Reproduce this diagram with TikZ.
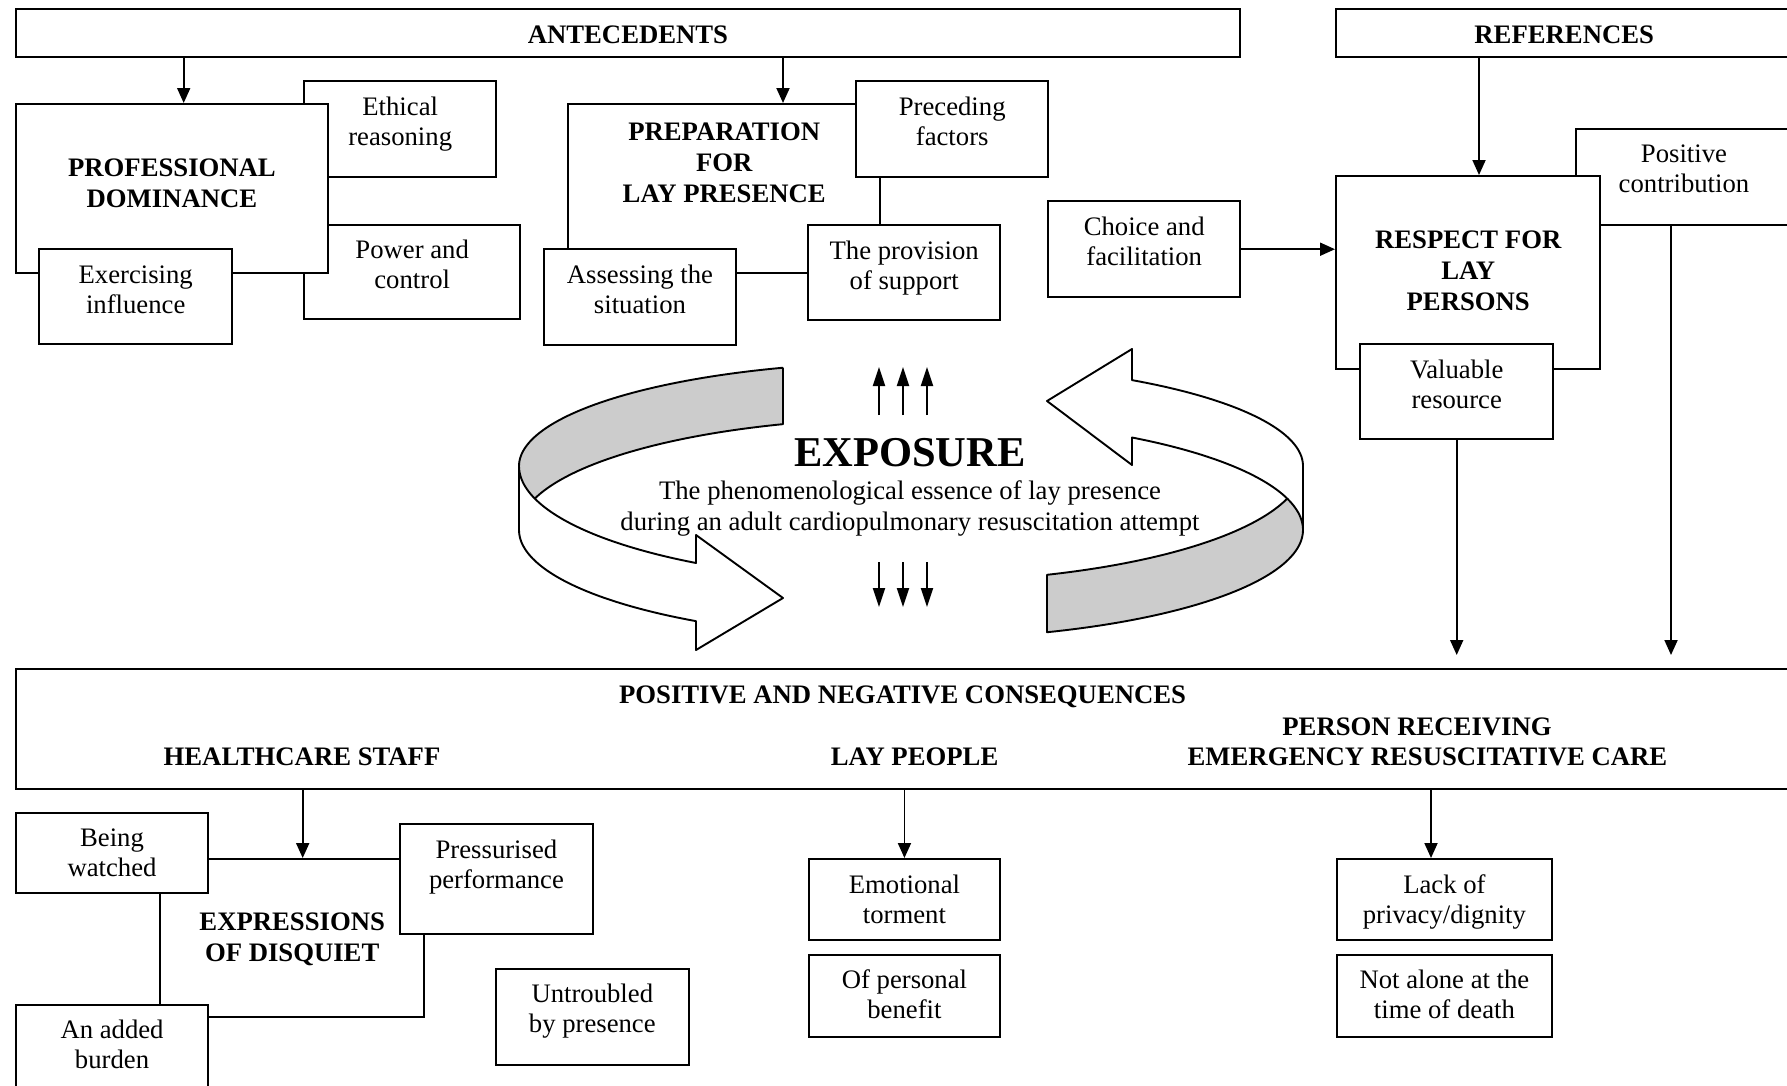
\documentclass[tikz,border=0pt]{standalone}
\usepackage{fontspec}
\setmainfont{Liberation Serif}
\usetikzlibrary{arrows.meta,calc}
\newcommand\lnstrut{\rule{0pt}{20pt}}
\begin{document}
\begin{tikzpicture}[x=1pt,y=-1pt,
  box/.style={draw, line width=2.4pt, fill=white, inner sep=0pt, anchor=north west},
  lbl/.style={inner sep=0pt, align=center, anchor=north, font=\fontsize{26.7}{30}\selectfont},
  hd/.style={inner sep=0pt, align=center, anchor=north, font=\fontsize{26.7}{31}\selectfont\bfseries},
  link/.style={line width=1.9pt, -{Triangle[length=15pt,width=13pt]}},
  expo/.style={line width=1.9pt, -{Triangle[length=19pt,width=12pt]}},
  rib/.style={line width=1.9pt, line join=round},
  ribfill/.style={fill=black!20},
]
\useasboundingbox (0,0) rectangle (1787,1085);
\clip (0,0) rectangle (1787,1085);
\fill[white] (0,0) rectangle (1787,1085);

% ---------- top row: antecedents and references ----------
\node[box, minimum width=1224.5pt, minimum height=48.5pt] (ant) at (14.5,7.5) {};
\node[hd] (antT) at ($(ant.north)+(0,15.5)$) {\lnstrut ANTECEDENTS};
\node[box, minimum width=456pt, minimum height=48.5pt] (ref) at (1335,7.5) {};
\node[hd] (refT) at ($(ref.north)+(0,15.5)$) {\lnstrut REFERENCES};

% professional dominance cluster
\node[box, minimum width=192pt, minimum height=96pt] (eth) at (303,80) {};
\node[lbl] (ethT) at ($(eth.north)+(0,15)$) {\lnstrut Ethical\\reasoning};
\node[box, minimum width=216pt, minimum height=94pt] (pow) at (303,224) {};
\node[lbl] (powT) at ($(pow.north)+(0,14)$) {\lnstrut Power and\\control};
\node[box, minimum width=312.5pt, minimum height=169pt] (pd) at (14.5,103) {};
\node[hd] (pdT) at ($(pd.north)+(0,53)$) {\lnstrut PROFESSIONAL\\DOMINANCE};
\node[box, minimum width=193pt, minimum height=95pt] (exi) at (38,248) {};
\node[lbl] (exiT) at ($(exi.north)+(0,15)$) {\lnstrut Exercising\\influence};

% preparation cluster
\node[box, minimum width=312pt, minimum height=169pt] (prep) at (567,103) {};
\node[hd] (prepT) at ($(prep.north)+(0,17)$) {\lnstrut PREPARATION\\FOR\\LAY PRESENCE};
\node[box, minimum width=192pt, minimum height=96pt] (pre) at (855,80) {};
\node[lbl] (preT) at ($(pre.north)+(0,15)$) {\lnstrut Preceding\\factors};
\node[box, minimum width=192pt, minimum height=95pt] (prov) at (807,224) {};
\node[lbl] (provT) at ($(prov.north)+(0,15)$) {\lnstrut The provision\\of support};
\node[box, minimum width=192.5pt, minimum height=96pt] (ass) at (542.5,248) {};
\node[lbl] (assT) at ($(ass.north)+(0,15)$) {\lnstrut Assessing the\\situation};

% respect cluster
\node[box, minimum width=192pt, minimum height=96pt] (cho) at (1047,200) {};
\node[lbl] (choT) at ($(cho.north)+(0,15)$) {\lnstrut Choice and\\facilitation};
\node[box, minimum width=216.5pt, minimum height=96pt] (pos) at (1574.5,128) {};
\node[lbl] (posT) at ($(pos.north)+(0,14)$) {\lnstrut Positive\\contribution};
\node[box, minimum width=264pt, minimum height=193pt] (resp) at (1335,175) {};
\node[hd] (respT) at ($(resp.north)+(0,53)$) {\lnstrut RESPECT FOR\\LAY\\PERSONS};
\node[box, minimum width=193pt, minimum height=95pt] (val) at (1359,343) {};
\node[lbl] (valT) at ($(val.north)+(0,15)$) {\lnstrut Valuable\\resource};

% ---------- the twisted ribbon arrows ----------
\def\rx{911}\def\ra{392}
% left arrow: grey back face
\fill[ribfill] plot[variable=\t, domain=109.06:180, samples=50] ({\rx+\ra*cos(\t)},{466-104*sin(\t)})
  -- plot[variable=\t, domain=180:163.7, samples=12] ({\rx+\ra*cos(\t)},{466+116*sin(\t)})
  -- plot[variable=\t, domain=163.7:109.06, samples=50] ({\rx+\ra*cos(\t)},{530-112*sin(\t)})
  -- cycle;
\draw[rib] plot[variable=\t, domain=109.06:180, samples=50] ({\rx+\ra*cos(\t)},{466-104*sin(\t)})
  -- (519,530)
  -- plot[variable=\t, domain=180:123.26, samples=50] ({\rx+\ra*cos(\t)},{530+109*sin(\t)})
  -- (696,650) -- (783,598) -- (696,535)
  -- plot[variable=\t, domain=123.26:180, samples=50] ({\rx+\ra*cos(\t)},{466+116*sin(\t)});
\draw[rib] (783,367.7)
  -- plot[variable=\t, domain=109.06:163.7, samples=50] ({\rx+\ra*cos(\t)},{530-112*sin(\t)});
% right arrow: grey front face
\fill[ribfill] plot[variable=\t, domain=69.70:16.3, samples=50] ({\rx+\ra*cos(\t)},{466+116*sin(\t)})
  -- plot[variable=\t, domain=16.3:0, samples=12] ({\rx+\ra*cos(\t)},{530-112*sin(\t)})
  -- plot[variable=\t, domain=0:69.70, samples=50] ({\rx+\ra*cos(\t)},{530+109*sin(\t)})
  -- cycle;
\draw[rib] plot[variable=\t, domain=0:55.68, samples=50] ({\rx+\ra*cos(\t)},{530-112*sin(\t)})
  -- (1132,465) -- (1047,401) -- (1132,349)
  -- plot[variable=\t, domain=55.68:0, samples=50] ({\rx+\ra*cos(\t)},{466-104*sin(\t)})
  -- (1303,530)
  -- plot[variable=\t, domain=0:69.70, samples=50] ({\rx+\ra*cos(\t)},{530+109*sin(\t)})
  -- plot[variable=\t, domain=69.70:16.3, samples=50] ({\rx+\ra*cos(\t)},{466+116*sin(\t)});

% ---------- centre: exposure ----------
\node[inner sep=0pt, anchor=base, font=\fontsize{42.5}{46}\selectfont\bfseries] (expT) at (910,466.7) {EXPOSURE};
\node[lbl, font=\fontsize{26.7}{31}\selectfont] (expS) at (910,479) {\lnstrut The phenomenological essence of lay presence\\during an adult cardiopulmonary resuscitation attempt};
\foreach \xx [count=\i] in {879,903,927} {
  \coordinate (us\i) at (\xx,415); \coordinate (ue\i) at (\xx,367);
  \coordinate (ds\i) at (\xx,562); \coordinate (de\i) at (\xx,607);
  \draw[expo] (us\i) -- (ue\i);
  \draw[expo] (ds\i) -- (de\i);
}

% ---------- consequences ----------
\node[box, minimum width=1776pt, minimum height=120pt] (cons) at (14.7,668) {};
\node[hd] (consT) at (902.6,683) {\lnstrut POSITIVE AND NEGATIVE CONSEQUENCES};
\node[hd] (hcs) at (302,745) {\lnstrut HEALTHCARE STAFF};
\node[hd] (lay) at (914.6,745) {\lnstrut LAY PEOPLE};
\node[hd] (prc1) at (1417,715) {\lnstrut PERSON RECEIVING};
\node[hd] (prc2) at (1427.5,745) {\lnstrut EMERGENCY RESUSCITATIVE CARE};

\node[box, minimum width=264pt, minimum height=158pt] (expr) at (159,858) {};
\node[hd] (exprT) at ($(expr.north)+(0,52)$) {\lnstrut EXPRESSIONS\\OF DISQUIET};
\node[box, minimum width=192.3pt, minimum height=80pt] (watch) at (14.7,812) {};
\node[lbl] (watchT) at ($(watch.north)+(0,14)$) {\lnstrut Being\\watched};
\node[box, minimum width=192.5pt, minimum height=110pt] (press) at (399,823) {};
\node[lbl] (pressT) at ($(press.north)+(0,15)$) {\lnstrut Pressurised\\performance};
\node[box, minimum width=192.3pt, minimum height=100pt] (burd) at (14.7,1004) {};
\node[lbl] (burdT) at ($(burd.north)+(0,14)$) {\lnstrut An added\\burden};
\node[box, minimum width=193pt, minimum height=96pt] (untr) at (494.6,968) {};
\node[lbl] (untrT) at ($(untr.north)+(0,14)$) {\lnstrut Untroubled\\by presence};

\node[box, minimum width=191.5pt, minimum height=81pt] (emo) at (807.5,858) {};
\node[lbl] (emoT) at ($(emo.north)+(0,15)$) {\lnstrut Emotional\\torment};
\node[box, minimum width=191.5pt, minimum height=82pt] (ben) at (807.5,954) {};
\node[lbl] (benT) at ($(ben.north)+(0,14)$) {\lnstrut Of personal\\benefit};
\node[box, minimum width=215pt, minimum height=81pt] (priv) at (1335.7,858) {};
\node[lbl] (privT) at ($(priv.north)+(0,15)$) {\lnstrut Lack of\\privacy/dignity};
\node[box, minimum width=215pt, minimum height=82pt] (dea) at (1335.7,954) {};
\node[lbl] (deaT) at ($(dea.north)+(0,14)$) {\lnstrut Not alone at the\\time of death};

% ---------- connectors ----------
\coordinate (a1) at ($(pd.north west)+(169.2,0)$);
\draw[link] (a1 |- ant.south) -- (a1);
\coordinate (a2) at ($(prep.north west)+(216,0)$);
\draw[link] (a2 |- ant.south) -- (a2);
\coordinate (a3) at ($(resp.north west)+(144,0)$);
\draw[link] (a3 |- ref.south) -- (a3);
\draw[link] (cho.east) -- (cho.east -| resp.west);
\coordinate (a4) at ($(val.south |- cons.north)+(0,-13)$);
\draw[link] (val.south) -- (a4);
\coordinate (a5) at ($(pos.south west)+(96.5,0)$);
\coordinate (a5e) at ($(a5 |- cons.north)+(0,-13)$);
\draw[link] (a5) -- (a5e);
\coordinate (a6) at ($(cons.south west)+(288,0)$);
\draw[link] (a6) -- (a6 |- expr.north);
\draw[link] (emo.north |- cons.south) -- (emo.north);
\coordinate (a7) at ($(priv.north west)+(95.3,0)$);
\draw[link] (a7 |- cons.south) -- (a7);
\end{tikzpicture}
\end{document}
